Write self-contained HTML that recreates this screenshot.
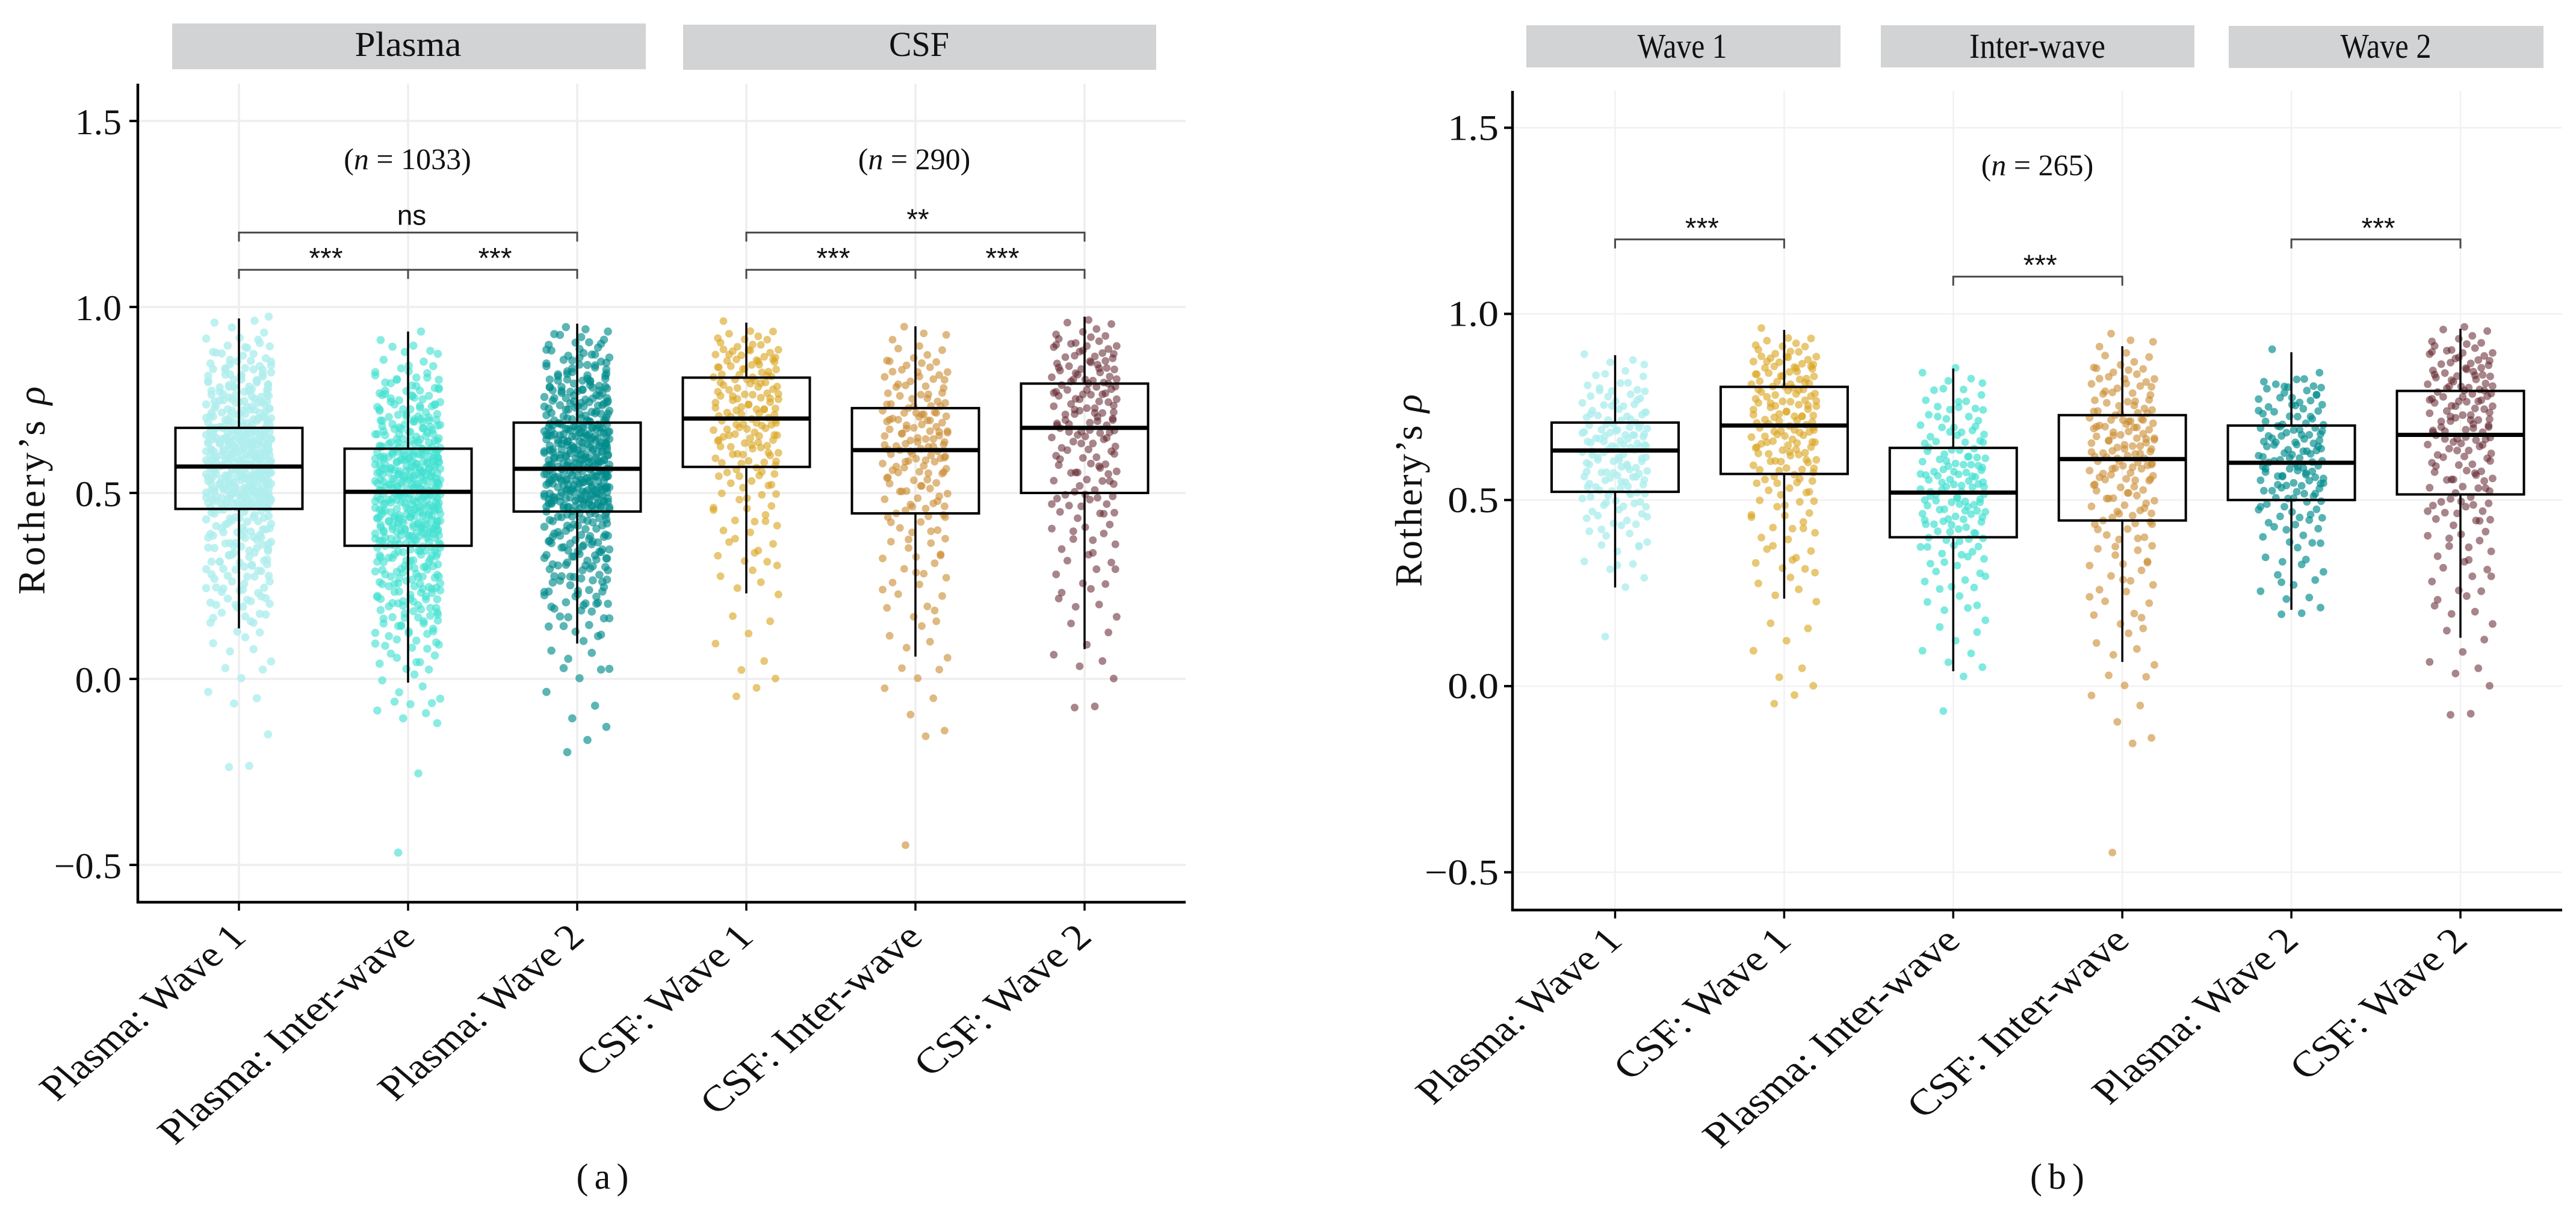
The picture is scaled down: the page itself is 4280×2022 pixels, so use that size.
<!DOCTYPE html>
<html lang="en">
<head>
<meta charset="utf-8">
<title>Rothery's rho by wave and sample type</title>
<style>
html,body{margin:0;padding:0;background:#fff;}
svg{display:block;}
text{font-family:"Liberation Serif",serif;fill:#111;}
.sans{font-family:"Liberation Sans",sans-serif;}
</style>
</head>
<body>
<svg id="figure" xmlns="http://www.w3.org/2000/svg" width="4280" height="2022" viewBox="0 0 4280 2022">
<rect x="0" y="0" width="4280" height="2022" fill="#fff"/>
<g id="panel-a"></g>
<g id="panel-b"></g>

<rect x="286" y="39" width="787" height="76" fill="#d2d3d5"/>
<text x="678" y="93" font-size="58" text-anchor="middle" textLength="177" lengthAdjust="spacingAndGlyphs">Plasma</text>
<rect x="1135" y="41" width="786" height="75" fill="#d2d3d5"/>
<text x="1527" y="93" font-size="58" text-anchor="middle" textLength="100" lengthAdjust="spacingAndGlyphs">CSF</text>
<rect x="2536" y="42" width="522" height="70" fill="#d2d3d5"/>
<text x="2795" y="96" font-size="58" text-anchor="middle" textLength="149" lengthAdjust="spacingAndGlyphs">Wave 1</text>
<rect x="3125" y="42" width="521" height="70" fill="#d2d3d5"/>
<text x="3385" y="96" font-size="58" text-anchor="middle" textLength="226" lengthAdjust="spacingAndGlyphs">Inter-wave</text>
<rect x="3703" y="43" width="523" height="70" fill="#d2d3d5"/>
<text x="3964" y="96" font-size="58" text-anchor="middle" textLength="151" lengthAdjust="spacingAndGlyphs">Wave 2</text>

<text x="677" y="281" font-size="50" text-anchor="middle">(<tspan font-style="italic">n</tspan> = 1033)</text>
<text x="1519" y="281" font-size="50" text-anchor="middle">(<tspan font-style="italic">n</tspan> = 290)</text>
<text x="3385" y="291" font-size="50" text-anchor="middle">(<tspan font-style="italic">n</tspan> = 265)</text>

<text transform="translate(74,815) rotate(-90)" font-size="64" text-anchor="middle" textLength="346">Rothery’s <tspan font-style="italic">ρ</tspan></text>
<text transform="translate(2362,815) rotate(-90)" font-size="64" text-anchor="middle" textLength="320">Rothery’s <tspan font-style="italic">ρ</tspan></text>

<text x="1001" y="1975" font-size="60" text-anchor="middle" textLength="87">(a)</text>
<text x="3418" y="1975" font-size="60" text-anchor="middle" textLength="90">(b)</text>
</svg>

<script>
const categoriesA=["Plasma: Wave 1","Plasma: Inter-wave","Plasma: Wave 2","CSF: Wave 1","CSF: Inter-wave","CSF: Wave 2"];
const categoriesB=["Plasma: Wave 1","CSF: Wave 1","Plasma: Inter-wave","CSF: Inter-wave","Plasma: Wave 2","CSF: Wave 2"];
const yTicks=[1.5,1,0.5,0,-0.5];
const yTickLabels=["1.5","1.0","0.5","0.0","−0.5"];

const q1A=[.457,.358,.45,.57,.445,.5];
const medianA=[.571,.503,.565,.7,.615,.675];
const q3A=[.675,.619,.689,.81,.728,.794];
const whiskerLowA=[.136,-.01,.095,.23,.06,.08];
const whiskerHighA=[.969,.934,.955,.958,.948,.974];

const q1B=[.522,.57,.4,.445,.5,.515];
const medianB=[.633,.7,.52,.61,.6,.675];
const q3B=[.708,.804,.64,.728,.7,.793];
const whiskerLowB=[.265,.235,.04,.065,.205,.13];
const whiskerHighB=[.889,.957,.853,.913,.897,.96];

const bracketsA=[[0,2,1.2,"ns"],[0,1,1.1,"***"],[1,2,1.1,"***"],[3,5,1.2,"**"],[3,4,1.1,"***"],[4,5,1.1,"***"]];
const bracketsB=[[0,1,1.2,"***"],[2,3,1.1,"***"],[4,5,1.2,"***"]];

const jitterX=[-.3,.31,.88,-.15,.54,-.93,.07,.72,-.41,.97,-.27,.44,-.78,.19,.63,-.05,-.86,.36,.81,-.52,.12,-.69,.93,.25,-.34,.58,-.99,.02,.76,-.21,.47,-.74,.9,-.1,.67,-.47,.16,-.83,.39,.85,-.58];
const jitterY=[.003,-.004,.001,.004,-.002,-.005,.002,.005,-.001,-.003,.004,0,-.004,.002,.005,-.003,.001,-.005,.003,-.002,.004,-.001,.002];

const plasmaWave1=[-.24,-.23,-.15,-.07,-.05,-.03,0,.02,.03,.05,.07,.08,.1,.11,.12,.13,.15,.16,.17,.18,.19,.2,.2,.21,.22,.23,.24,.24,.25,.26,.27,.27,.28,.29,.29,.3,.3,.31,.31,.32,.32,.33,.33,.34,.34,.35,.35,.36,.36,.36,.37,.37,.38,.38,.38,.39,.39,.39,.4,.4,.4,.41,.41,.41,.42,.42,.42,.43,.43,.43,.43,.44,.44,.44,.44,.45,.45,.45,.45,.46,
.46,.46,.46,.46,.46,.47,.47,.47,.47,.47,.47,.48,.48,.48,.48,.48,.48,.48,.49,.49,.49,.49,.49,.49,.49,.5,.5,.5,.5,.5,.5,.5,.5,.51,.51,.51,.51,.51,.51,.51,.52,.52,.52,.52,.52,.52,.52,.52,.53,.53,.53,.53,.53,.53,.53,.54,.54,.54,.54,.54,.54,.54,.54,.55,.55,.55,.55,.55,.55,.55,.56,.56,.56,.56,.56,.56,.56,.56,.57,.57,.57,.57,.57,.57,.57,
.58,.58,.58,.58,.58,.58,.58,.59,.59,.59,.59,.59,.59,.59,.59,.6,.6,.6,.6,.6,.6,.6,.6,.61,.61,.61,.61,.61,.61,.61,.61,.62,.62,.62,.62,.62,.62,.62,.62,.63,.63,.63,.63,.63,.63,.63,.64,.64,.64,.64,.64,.64,.64,.64,.65,.65,.65,.65,.65,.65,.65,.65,.66,.66,.66,.66,.66,.66,.66,.67,.67,.67,.67,.67,.67,.67,.67,
.68,.68,.68,.68,.68,.68,.69,.69,.69,.69,.69,.7,.7,.7,.7,.7,.71,.71,.71,.71,.71,.72,.72,.72,.72,.73,.73,.73,.73,.74,.74,.74,.74,.75,.75,.75,.76,.76,.76,.77,.77,.77,.78,.78,.78,.79,.79,.79,.8,.8,.8,.81,.81,.82,.82,.82,.83,.83,.84,.84,.85,.85,.86,.86,.87,.87,.88,.89,.89,.9,.91,.91,.92,.93,.95,.96,.96,.97,
.2,.22,.24,.26,.28,.3,.31,.32,.33,.34,.35,.36,.37,.38,.39,.4,.41,.42,.43,.44,.45,.46,.46,.46,.46,.47,.47,.47,.47,.48,.48,.48,.48,.49,.49,.49,.49,.5,.5,.5,.5,.51,.51,.51,.51,.52,.52,.52,.52,.53,.53,.53,.53,.54,.54,.54,.54,.55,.55,.55,.55,.56,.56,.56,.56,.57,.57,.57,.57,.58,.58,.58,.58,.59,.59,.59,.59,.6,.6,.6,.6,.61,.61,.61,.61,.62,.62,.62,.62,.63,.63,.63,.63,.64,.64,.64,.64,.65,.65,.65,.65,.66,.66,.66,.66,.67,.67,.67,.67,.68,.68,.68,.68,.69,.69,.7,.7,.71,.71,.72,.72,.73,.73,.74,.74,.75,.75,.76,.76,.77,.77,.78,.78,.79,.79,.8,.8,.81,.82,.83,.84,.85,
.15,.16,.17,.18,.19,.2,.21,.22,.23,.24,.25,.26,.27,.28,.29,.3,.31,.32,.33,.34,.35,.36,.37,.38,.39,.4,.72,.73,.74,.75,.76,.77,.78,.79,.8,.81,.82,.83,.84,.85,.86,.87,.88,.89,.9];

const plasmaInter=[-.47,-.25,-.12,-.11,-.09,-.08,-.07,-.07,-.06,-.05,-.04,-.02,0,.01,.02,.03,.04,.05,.06,.07,.08,.09,.09,.1,.11,.12,.12,.13,.14,.14,.15,.15,.16,.16,.17,.17,.18,.18,.19,.19,.2,.2,.2,.21,.21,.22,.22,.22,.23,.23,.24,.24,.24,.25,.25,.25,.26,.26,.26,.27,.27,.27,.28,.28,.28,.29,.29,.29,.3,.3,.3,.3,.31,.31,.31,.32,.32,.32,.33,.33,.33,.33,.34,.34,.34,.34,.35,.35,.35,.35,.36,.36,.36,
.36,.37,.37,.37,.37,.37,.38,.38,.38,.38,.38,.39,.39,.39,.39,.39,.39,.4,.4,.4,.4,.4,.4,.41,.41,.41,.41,.41,.41,.42,.42,.42,.42,.42,.42,.43,.43,.43,.43,.43,.43,.44,.44,.44,.44,.44,.44,.45,.45,.45,.45,.45,.45,.46,.46,.46,.46,.46,.46,.47,.47,.47,.47,.47,.47,.48,.48,.48,.48,.48,.48,.49,.49,.49,.49,.49,.49,.5,.5,.5,.5,.5,.5,
.51,.51,.51,.51,.51,.51,.51,.52,.52,.52,.52,.52,.52,.52,.53,.53,.53,.53,.53,.53,.53,.54,.54,.54,.54,.54,.54,.54,.55,.55,.55,.55,.55,.55,.55,.56,.56,.56,.56,.56,.56,.56,.57,.57,.57,.57,.57,.57,.57,.58,.58,.58,.58,.58,.58,.58,.59,.59,.59,.59,.59,.59,.59,.6,.6,.6,.6,.6,.6,.6,.61,.61,.61,.61,.61,.61,.61,.62,.62,.62,.62,
.62,.63,.63,.63,.63,.63,.64,.64,.64,.64,.65,.65,.65,.65,.66,.66,.66,.66,.67,.67,.67,.68,.68,.68,.69,.69,.69,.7,.7,.7,.71,.71,.71,.72,.72,.73,.73,.73,.74,.74,.75,.75,.76,.76,.76,.77,.77,.78,.78,.79,.79,.8,.8,.81,.81,.82,.82,.83,.84,.84,.85,.86,.87,.88,.88,.89,.9,.91,.93,
.1,.12,.14,.16,.18,.2,.21,.22,.23,.24,.25,.26,.27,.28,.29,.3,.31,.32,.33,.34,.35,.36,.36,.36,.37,.37,.37,.38,.38,.38,.39,.39,.39,.39,.4,.4,.4,.4,.41,.41,.41,.41,.42,.42,.42,.42,.43,.43,.43,.43,.44,.44,.44,.44,.45,.45,.45,.45,.46,.46,.46,.46,.47,.47,.47,.47,.48,.48,.48,.48,.49,.49,.49,.49,.5,.5,.5,.5,.51,.51,.51,.51,.52,.52,.52,.52,.53,.53,.53,.53,.54,.54,.54,.54,.55,.55,.55,.55,.56,.56,.56,.56,.57,.57,.57,.57,.58,.58,.58,.58,.59,.59,.59,.59,.6,.6,.6,.6,.61,.61,.61,.62,.62,.62,.63,.63,.64,.64,.65,.65,.66,.66,.67,.67,.68,.68,.69,.69,.7,.7,.71,.72,.73,.74,.75,.76,.77,.78,
.04,.06,.08,.1,.12,.13,.14,.15,.16,.17,.18,.19,.2,.21,.22,.23,.24,.25,.26,.27,.28,.29,.3,.31,.32,.33,.34,.35,.66,.67,.68,.69,.7,.71,.72,.73,.74,.75,.76,.77,.78,.79,.8,.81,.82,.84];

const plasmaWave2=[-.2,-.16,-.13,-.11,-.07,-.03,0,.02,.03,.03,.05,.07,.08,.1,.11,.13,.14,.15,.16,.17,.18,.19,.2,.2,.21,.22,.23,.23,.24,.25,.26,.26,.27,.27,.28,.28,.29,.29,.3,.3,.31,.31,.32,.32,.33,.33,.33,.34,.34,.35,.35,.35,.36,.36,.36,.37,.37,.37,.38,.38,.38,.39,.39,.39,.4,.4,.4,.41,.41,.41,.41,.42,.42,.42,.42,.43,.43,.43,.43,.44,.44,.44,.44,.45,.45,.45,
.45,.46,.46,.46,.46,.46,.46,.47,.47,.47,.47,.47,.47,.47,.48,.48,.48,.48,.48,.48,.48,.49,.49,.49,.49,.49,.49,.49,.5,.5,.5,.5,.5,.5,.5,.51,.51,.51,.51,.51,.51,.51,.52,.52,.52,.52,.52,.52,.52,.53,.53,.53,.53,.53,.53,.53,.54,.54,.54,.54,.54,.54,.54,.55,.55,.55,.55,.55,.55,.55,.56,.56,.56,.56,.56,.56,.56,.57,
.57,.57,.57,.57,.57,.57,.58,.58,.58,.58,.58,.58,.58,.59,.59,.59,.59,.59,.59,.6,.6,.6,.6,.6,.6,.6,.61,.61,.61,.61,.61,.61,.62,.62,.62,.62,.62,.62,.62,.63,.63,.63,.63,.63,.63,.64,.64,.64,.64,.64,.64,.64,.65,.65,.65,.65,.65,.65,.66,.66,.66,.66,.66,.66,.66,.67,.67,.67,.67,.67,.67,.68,.68,.68,.68,.68,.68,.68,.69,.69,.69,
.69,.7,.7,.7,.7,.71,.71,.71,.71,.71,.72,.72,.72,.72,.73,.73,.73,.73,.74,.74,.74,.74,.75,.75,.75,.76,.76,.76,.77,.77,.77,.78,.78,.78,.79,.79,.79,.8,.8,.8,.81,.81,.82,.82,.83,.83,.84,.84,.85,.85,.86,.86,.87,.87,.88,.88,.89,.9,.9,.91,.91,.92,.92,.93,.93,.94,.95,
.2,.22,.24,.26,.28,.3,.31,.32,.33,.34,.35,.36,.37,.38,.39,.4,.41,.42,.43,.44,.45,.45,.45,.46,.46,.46,.46,.47,.47,.47,.47,.48,.48,.48,.48,.49,.49,.49,.49,.5,.5,.5,.5,.51,.51,.51,.51,.52,.52,.52,.52,.53,.53,.53,.53,.54,.54,.54,.54,.55,.55,.55,.55,.56,.56,.56,.56,.57,.57,.57,.57,.58,.58,.58,.58,.59,.59,.59,.59,.6,.6,.6,.6,.61,.61,.61,.61,.62,.62,.62,.62,.63,.63,.63,.63,.64,.64,.64,.64,.65,.65,.65,.65,.66,.66,.66,.66,.67,.67,.67,.67,.68,.68,.68,.68,.69,.69,.69,.7,.7,.71,.71,.72,.72,.73,.73,.74,.74,.75,.75,.76,.76,.77,.77,.78,.78,.79,.79,.8,.8,.81,.82,.83,.84,.85,.86,
.12,.14,.16,.17,.18,.19,.2,.21,.22,.23,.24,.25,.26,.27,.28,.29,.3,.31,.32,.33,.34,.35,.36,.37,.38,.74,.75,.76,.77,.78,.79,.8,.81,.82,.83,.84,.85,.86,.87,.88,.89,.9];

const csfWave1=[-.05,-.02,0,.02,.05,.1,.12,.15,.17,.23,.24,.26,.28,.29,.31,.32,.33,.35,.36,.37,.39,.4,.41,.42,.43,.44,.45,.46,.47,.48,.49,.5,.5,.51,.52,.53,.53,.54,.55,.55,.56,.56,.57,
.57,.58,.58,.59,.59,.6,.6,.61,.61,.62,.62,.62,.63,.63,.64,.64,.64,.65,.65,.65,.66,.66,.66,.67,.67,.67,.68,.68,.68,.69,.69,.69,.7,.7,.7,
.71,.71,.71,.72,.72,.72,.73,.73,.73,.74,.74,.74,.75,.75,.75,.76,.76,.76,.77,.77,.77,.78,.78,.78,.79,.79,.79,.8,.8,.8,.81,.81,
.81,.82,.82,.82,.83,.83,.83,.84,.84,.84,.85,.85,.85,.86,.86,.86,.87,.87,.87,.88,.88,.88,.89,.89,.9,.9,.9,.91,.91,.92,.92,.93,.93,.94,.96,
.3,.34,.38,.42,.46,.49,.52,.54,.56,.58,.59,.6,.61,.62,.63,.64,.65,.66,.67,.68,.69,.7,.71,.72,.73,.74,.75,.76,.77,.78,.79,.8,.81,.82,.83,.84,.85,.86,.87,.88,.89];

const csfInter=[-.45,-.15,-.14,-.1,-.05,-.02,0,.02,.03,.06,.08,.1,.12,.14,.15,.17,.19,.2,.22,.23,.25,.26,.27,.28,.3,.31,.32,.33,.34,.35,.36,.37,.38,.39,.4,.41,.42,.43,.44,.44,.45,.45,
.46,.46,.47,.47,.48,.49,.49,.5,.5,.51,.51,.52,.52,.53,.53,.54,.54,.55,.55,.56,.56,.57,.57,.57,.58,.58,.59,.59,.59,.6,.6,.6,.61,.61,.61,
.62,.62,.62,.63,.63,.63,.64,.64,.64,.65,.65,.65,.66,.66,.66,.67,.67,.67,.68,.68,.68,.69,.69,.69,.7,.7,.7,.71,.71,.71,.72,.72,.72,.73,
.73,.73,.74,.74,.75,.75,.76,.76,.77,.77,.78,.78,.79,.79,.8,.8,.81,.81,.82,.82,.83,.83,.84,.84,.85,.85,.85,.86,.86,.87,.88,.89,.9,.91,.92,.93,.95,
.18,.24,.29,.33,.37,.4,.42,.44,.46,.48,.5,.52,.54,.55,.56,.57,.58,.59,.6,.61,.62,.63,.64,.65,.66,.67,.68,.69,.7,.71,.72,.73,.74,.75,.77,.79,.81,.83];

const csfWave2=[-.08,-.07,0,.03,.05,.07,.09,.12,.15,.17,.19,.2,.22,.24,.25,.26,.28,.3,.31,.32,.33,.35,.36,.37,.38,.39,.4,.41,.42,.43,.44,.45,.45,.46,.47,.47,.48,.48,.49,.49,.5,.5,
.51,.52,.52,.53,.53,.54,.55,.55,.56,.56,.57,.57,.58,.58,.59,.6,.6,.61,.61,.62,.62,.63,.63,.64,.64,.65,.65,.66,.66,.66,.67,.67,.67,
.68,.68,.69,.69,.7,.7,.7,.71,.71,.72,.72,.72,.73,.73,.74,.74,.75,.75,.75,.76,.76,.77,.77,.77,.78,.78,.78,.79,.79,.79,
.8,.8,.8,.81,.81,.81,.82,.82,.83,.83,.83,.84,.84,.85,.85,.85,.86,.86,.87,.87,.87,.88,.88,.89,.89,.89,.9,.9,.9,.91,.91,.92,.92,.93,.93,.94,.95,.96,.97,
.23,.29,.34,.4,.44,.47,.5,.53,.55,.57,.59,.61,.63,.65,.66,.67,.68,.69,.7,.71,.72,.73,.74,.75,.76,.77,.78,.79,.8,.81,.82,.83,.84,.85,.86,.88,.9];

const plasmaWave1B=[.13,.27,.29,.31,.33,.34,.36,.37,.38,.39,.4,.41,.42,.43,.43,.44,.45,.45,.46,.46,.47,.47,.48,.48,.49,.49,.5,.5,.5,.51,.51,.51,.52,.52,.52,
.53,.53,.53,.54,.54,.54,.55,.55,.55,.56,.56,.56,.57,.57,.57,.58,.58,.58,.59,.59,.59,.6,.6,.6,.61,.61,.61,.62,.62,.62,.63,.63,.63,
.64,.64,.64,.64,.65,.65,.65,.65,.66,.66,.66,.66,.67,.67,.67,.67,.68,.68,.68,.68,.69,.69,.69,.69,.7,.7,.7,.71,.71,
.71,.72,.72,.73,.73,.74,.74,.74,.75,.75,.76,.76,.77,.77,.78,.78,.78,.79,.79,.8,.8,.81,.81,.82,.83,.83,.84,.85,.86,.87,.88,.89,
.32,.38,.42,.46,.49,.52,.54,.55,.56,.57,.58,.59,.6,.61,.62,.63,.64,.65,.66,.67,.68,.69,.7,.71,.72,.73,.74,.75,.77,.79];

const plasmaInterB=[-.07,.03,.05,.06,.09,.1,.12,.14,.16,.18,.2,.21,.23,.24,.26,.27,.28,.29,.3,.31,.32,.33,.34,.35,.36,.36,.37,.38,.38,.39,.39,.4,.4,
.41,.41,.42,.42,.43,.43,.44,.44,.44,.45,.45,.45,.46,.46,.46,.47,.47,.47,.48,.48,.48,.49,.49,.49,.5,.5,.5,.51,.51,.51,.52,.52,
.53,.53,.53,.54,.54,.54,.55,.55,.55,.56,.56,.56,.57,.57,.57,.58,.58,.58,.59,.59,.59,.6,.6,.6,.61,.61,.61,.62,.62,.63,.63,.64,.64,
.65,.65,.66,.66,.67,.67,.68,.68,.69,.69,.7,.7,.71,.72,.72,.73,.74,.74,.75,.75,.76,.77,.77,.78,.79,.8,.8,.81,.82,.83,.84,.85,
.22,.26,.3,.33,.35,.37,.39,.41,.43,.45,.47,.49,.5,.51,.52,.53,.54,.55,.56,.57,.58,.59,.6,.62,.64,.66,.68,.7,.72,.75];

const plasmaWave2B=[.19,.2,.21,.23,.24,.26,.27,.28,.3,.31,.33,.34,.35,.37,.38,.39,.4,.41,.42,.43,.43,.44,.45,.45,.46,.46,.47,.47,.48,.48,.49,.49,.5,.5,
.51,.51,.52,.52,.52,.53,.53,.53,.54,.54,.54,.55,.55,.55,.56,.56,.56,.57,.57,.57,.58,.58,.58,.59,.59,.59,.6,.6,.6,
.61,.61,.61,.62,.62,.62,.63,.63,.63,.64,.64,.64,.65,.65,.65,.66,.66,.66,.67,.67,.67,.68,.68,.68,.69,.69,.69,.7,.7,.7,
.71,.71,.72,.72,.73,.73,.74,.74,.74,.75,.75,.76,.76,.77,.77,.77,.78,.78,.79,.79,.8,.8,.8,.81,.81,.82,.82,.83,.84,.9,
.28,.33,.38,.42,.45,.48,.5,.52,.54,.55,.56,.57,.58,.59,.6,.61,.62,.63,.64,.65,.66,.67,.68,.69,.7,.72,.74,.76,.78,.8];

const seriesA=[plasmaWave1,plasmaInter,plasmaWave2,csfWave1,csfInter,csfWave2];
const seriesB=[plasmaWave1B,csfWave1,plasmaInterB,csfInter,plasmaWave2B,csfWave2];
const colorsA=["#afeeee","#40e0d0","#008b8b","#daa520","#c98a2e","#5e2129"];
const colorsB=["#afeeee","#daa520","#40e0d0","#c98a2e","#008b8b","#5e2129"];
const alphasA=[.8,.62,.64,.62,.6,.55];
const alphasB=[.8,.62,.68,.6,.66,.55];
const radiiA=[6.8,6.8,6.8,6.4,6.4,6.4];
const radiiB=[6.4,6.4,6.4,6.4,6.4,6.4];

const SVG_NS="http://www.w3.org/2000/svg";
function xA(i){return 397+i*281;}
function yA(v){return 1128-618*v;}
function xB(i){return 2683.5+i*280.9;}
function yB(v){return 1140-618.5*v;}
function labelStretch(c){return c.indexOf('Inter')>=0?1.05:(c.indexOf('CSF')===0?1.03:1);}

function make(parent,tag,attrs,txt){
  const el=document.createElementNS(SVG_NS,tag);
  for(const k in attrs){el.setAttribute(k,attrs[k]);}
  if(txt!==undefined){el.textContent=txt;}
  parent.appendChild(el);
  return el;
}

function drawPanel(root,o){
  const x=o.x,y=o.y;
  const gridG=make(root,'g',{});
  
  
  yTicks.forEach(function(t){
    const l=make(gridG,'line',{x1:o.left,x2:o.right,y1:y(t),y2:y(t),stroke:o.gridColor,'stroke-width':o.gridWidth});
    
    
  });
  o.categories.forEach(function(c,i){
    const l=make(gridG,'line',{x1:x(i),x2:x(i),y1:o.top,y2:o.bottom,stroke:o.gridColor,'stroke-width':o.gridWidth});
    
    
  });

  o.series.forEach(function(values,i){
    const g=make(root,'g',{fill:o.colors[i],'fill-opacity':o.alphas[i]});
    
    
    values.forEach(function(v,k){
      const jx=jitterX[k%jitterX.length],jy=jitterY[k%jitterY.length];
      const p=make(g,'circle',{cx:(x(i)+jx*55).toFixed(1),cy:y(v+jy).toFixed(1),r:o.radii[i]});
      
      
    });
  });

  o.categories.forEach(function(c,i){
    const g=make(root,'g',{stroke:'#000',fill:'none'});
    
    
    const w1=make(g,'line',{x1:x(i),x2:x(i),y1:y(o.q3[i]),y2:y(o.whiskerHigh[i]),'stroke-width':3.5});
    
    
    const w2=make(g,'line',{x1:x(i),x2:x(i),y1:y(o.q1[i]),y2:y(o.whiskerLow[i]),'stroke-width':3.5});
    
    
    const b=make(g,'rect',{x:x(i)-105.5,width:211,y:y(o.q3[i]),height:y(o.q1[i])-y(o.q3[i]),'stroke-width':4});
    
    
    const m=make(g,'line',{x1:x(i)-105.5,x2:x(i)+105.5,y1:y(o.median[i]),y2:y(o.median[i]),'stroke-width':7});
    
    
  });

  o.brackets.forEach(function(br){
    const x1=x(br[0]),x2=x(br[1]),yb=y(br[2]);
    const path=make(root,'path',{d:'M'+x1+' '+(yb+15)+'V'+yb+'H'+x2+'V'+(yb+15),fill:'none',stroke:'#4a4a4a','stroke-width':3});
    
    
    const isNs=br[3]==='ns';
    const lab=make(root,'text',{x:(x1+x2)/2+(isNs?6:4),y:isNs?yb-13:yb+(br[3]==='**'?-6:-3),'font-size':isNs?46:48,'text-anchor':'middle','class':'sans'},br[3]);
    
    
  });

  const axis=make(root,'path',{d:'M'+o.left+' '+o.top+'V'+o.bottom+'H'+o.right,fill:'none',stroke:'#000','stroke-width':4.5});
  
  

  yTicks.forEach(function(t,i){
    const tk=make(root,'line',{x1:o.left-14,x2:o.left,y1:y(t),y2:y(t),stroke:'#000','stroke-width':4});
    
    
    const lb=make(root,'text',{transform:'translate('+o.tickLabelX+','+(y(t)+o.tickDy)+') scale('+o.tickScale+',1)','font-size':60,'text-anchor':'end'},yTickLabels[i]);
    
    
  });

  o.categories.forEach(function(c,i){
    const tk=make(root,'line',{x1:x(i),x2:x(i),y1:o.bottom,y2:o.bottom+14,stroke:'#000','stroke-width':3.5});
    
    
    const lb=make(root,'text',{transform:'translate('+(x(i)+o.labelDx)+','+(o.bottom+o.labelDy)+') scale(1.17,1) rotate(-45) scale('+labelStretch(c)+',1)','font-size':60,'text-anchor':'end'},c);
    
    
  });
}

drawPanel(document.getElementById('panel-a'),{
  x:xA,y:yA,categories:categoriesA,series:seriesA,colors:colorsA,alphas:alphasA,radii:radiiA,
  q1:q1A,median:medianA,q3:q3A,whiskerLow:whiskerLowA,whiskerHigh:whiskerHighA,brackets:bracketsA,
  left:229,right:1970,top:139,bottom:1499,gridColor:'#eeeeee',gridWidth:3.5,
  tickLabelX:202,tickDy:22,tickScale:1.03,labelDx:15,labelDy:61
});
drawPanel(document.getElementById('panel-b'),{
  x:xB,y:yB,categories:categoriesB,series:seriesB,colors:colorsB,alphas:alphasB,radii:radiiB,
  q1:q1B,median:medianB,q3:q3B,whiskerLow:whiskerLowB,whiskerHigh:whiskerHighB,brackets:bracketsB,
  left:2513,right:4257,top:151,bottom:1512,gridColor:'#f1f1f1',gridWidth:2.5,
  tickLabelX:2490,tickDy:20,tickScale:1.13,labelDx:15,labelDy:54
});
</script>
</body>
</html>
